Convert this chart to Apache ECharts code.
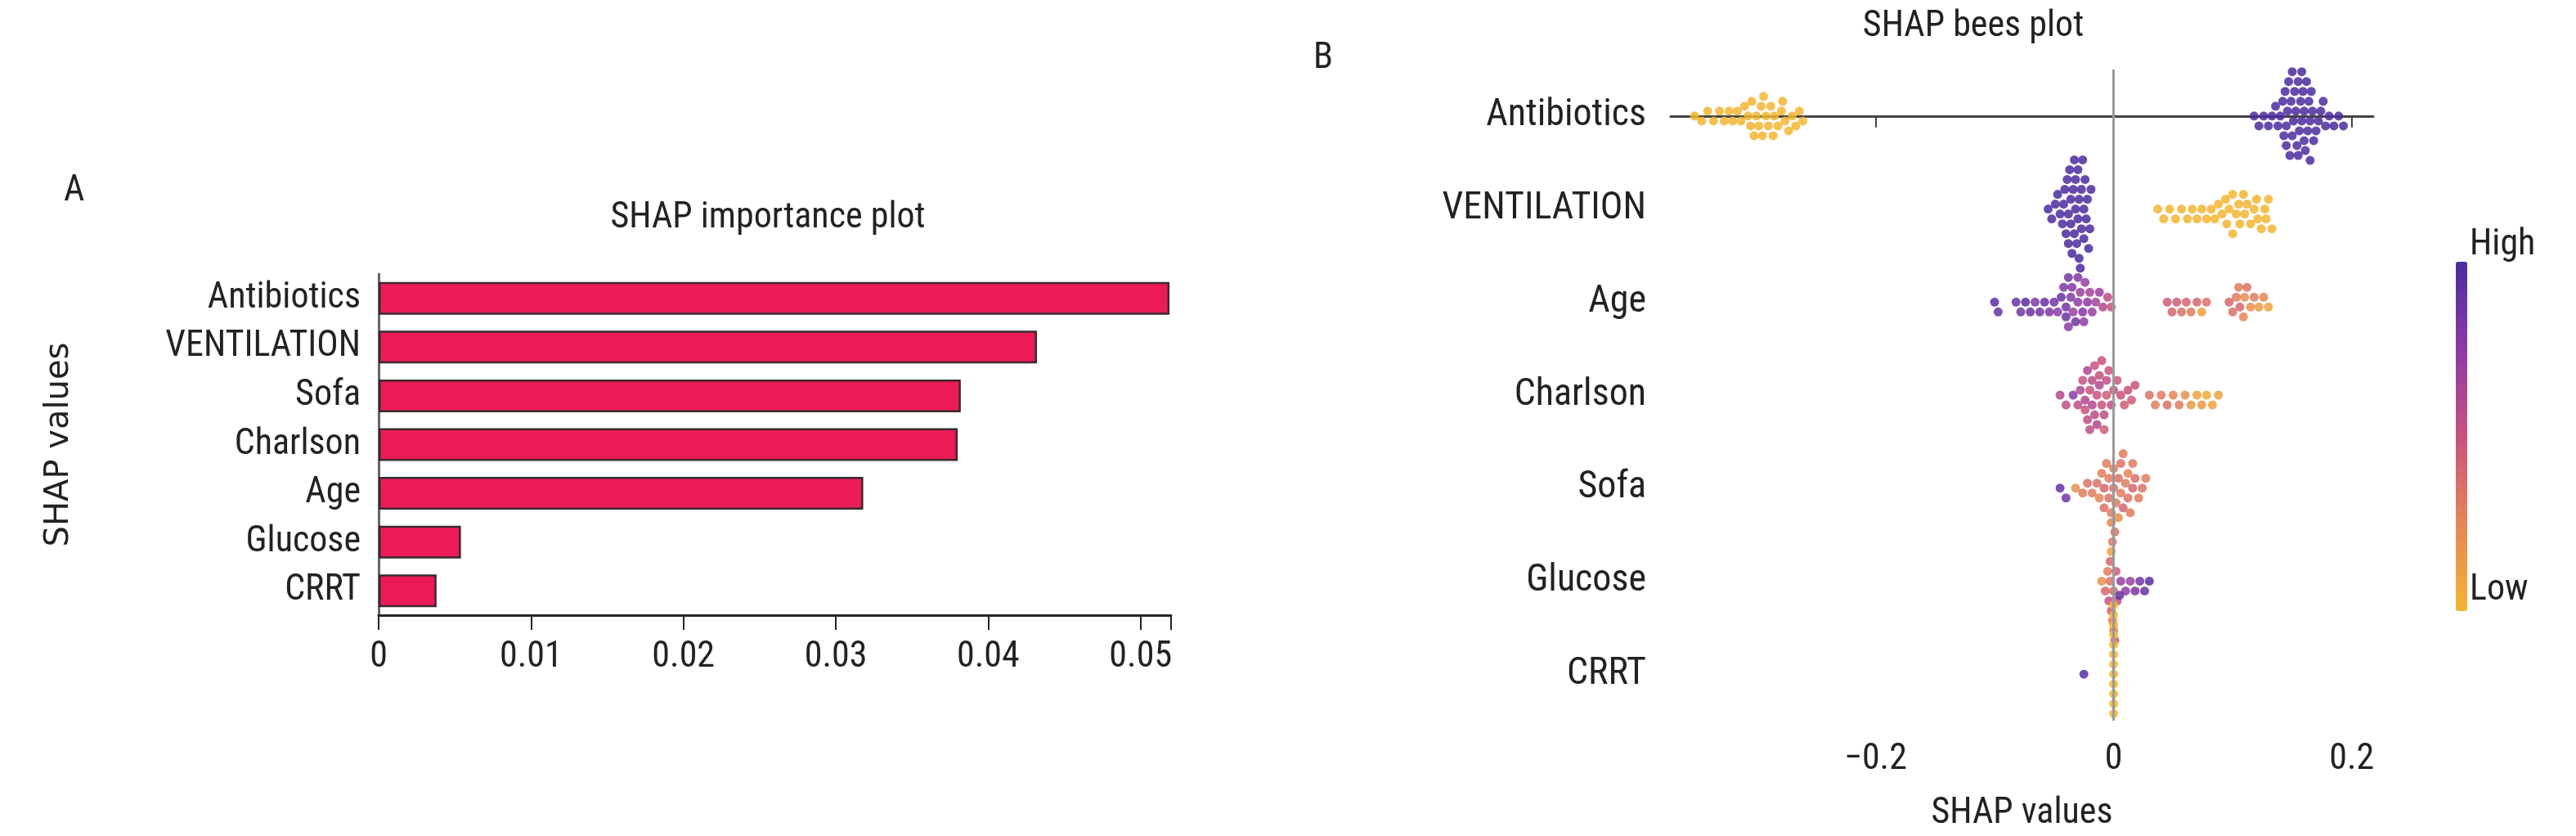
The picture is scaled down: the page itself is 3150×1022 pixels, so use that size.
<!DOCTYPE html>
<html><head><meta charset="utf-8">
<script src="https://cdn.jsdelivr.net/npm/echarts@6/dist/echarts.min.js"></script>
<style>html,body{margin:0;padding:0;background:#fff}#c{width:3150px;height:1022px}</style>
</head><body><div id="c"></div>
<script>
// ---- Panel A data ----
const impCategories = ['CRRT','Glucose','Age','Charlson','Sofa','VENTILATION','Antibiotics'];
const impValues = [0.0038,0.0054,0.0318,0.0380,0.0382,0.0432,0.0519];
const impTicks = [0,0.01,0.02,0.03,0.04,0.05];
// ---- Panel B data: [shap value, feature value (0 low .. 1 high)] ----
const beeCategories = ['Antibiotics','VENTILATION','Age','Charlson','Sofa','Glucose','CRRT'];
const antibiotics = [
 [-0.352,0],[-0.346,0],[-0.341,0],[-0.336,0],[-0.331,0],[-0.327,0],[-0.323,0],[-0.320,0],[-0.316,0],[-0.313,0],
 [-0.310,0],[-0.307,0],[-0.304,0],[-0.302,0],[-0.300,0],[-0.298,0],[-0.296,0],[-0.294,0],[-0.292,0],[-0.290,0],
 [-0.288,0],[-0.285,0],[-0.282,0],[-0.279,0],[-0.276,0],[-0.273,0],[-0.270,0],[-0.267,0],[-0.264,0],[-0.261,0],
 [-0.305,0],[-0.295,0],[-0.286,0],[-0.278,0],
 [0.118,1],[0.122,1],[0.126,1],[0.130,1],[0.133,1],[0.136,1],[0.138,1],[0.140,1],[0.142,1],[0.143,1],
 [0.144,1],[0.145,1],[0.146,1],[0.147,1],[0.148,1],[0.149,1],[0.150,1],[0.151,1],[0.152,1],[0.153,1],
 [0.154,1],[0.155,1],[0.156,1],[0.157,1],[0.158,1],[0.159,1],[0.160,1],[0.161,1],[0.162,1],[0.163,1],
 [0.164,1],[0.165,1],[0.166,1],[0.167,1],[0.168,1],[0.170,1],[0.172,1],[0.174,1],[0.176,1],[0.178,1],
 [0.181,1],[0.185,1],[0.189,1],[0.193,1],[0.150,1],[0.155,1],[0.160,1],[0.165,1],[0.145,1],[0.158,1]
];
const ventilation = [
 [-0.055,1],[-0.052,1],[-0.049,1],[-0.047,1],[-0.045,1],[-0.043,1],[-0.042,1],[-0.041,1],[-0.040,1],[-0.039,1],
 [-0.038,1],[-0.037,1],[-0.036,1],[-0.035,1],[-0.034,1],[-0.033,1],[-0.032,1],[-0.031,1],[-0.030,1],[-0.029,1],
 [-0.028,1],[-0.027,1],[-0.026,1],[-0.025,1],[-0.024,1],[-0.023,1],[-0.022,1],[-0.021,1],[-0.020,1],[-0.019,1],
 [-0.036,1],[-0.033,1],[-0.030,1],[-0.027,1],[-0.038,1],[-0.025,1],[-0.032,1],[-0.029,1],
 [0.037,0],[0.042,0],[0.047,0],[0.052,0],[0.057,0],[0.062,0],[0.066,0],[0.070,0],[0.074,0],[0.078,0],
 [0.082,0],[0.085,0],[0.088,0],[0.091,0],[0.094,0],[0.097,0],[0.100,0],[0.103,0],[0.106,0],[0.109,0],
 [0.112,0],[0.115,0],[0.118,0],[0.121,0],[0.124,0],[0.127,0],[0.130,0],[0.133,0],[0.095,0],[0.105,0],
 [0.110,0],[0.120,0],[0.128,0],[0.100,0]
];
const age = [
 [-0.100,0.95],[-0.097,0.9],[-0.082,0.9],[-0.078,0.85],[-0.074,0.95],[-0.070,0.9],[-0.066,0.8],[-0.062,0.85],
 [-0.058,0.9],[-0.054,0.8],[-0.050,0.85],[-0.047,0.75],[-0.044,0.9],[-0.042,0.8],[-0.040,0.85],[-0.038,0.75],
 [-0.036,0.8],[-0.034,0.7],[-0.032,0.85],[-0.030,0.75],[-0.028,0.7],[-0.026,0.8],[-0.024,0.7],[-0.022,0.75],
 [-0.020,0.65],[-0.018,0.7],[-0.015,0.65],[-0.012,0.7],[-0.009,0.6],[-0.005,0.55],[-0.002,0.5],[-0.040,0.9],
 [-0.038,0.85],[-0.035,0.8],[-0.030,0.8],[-0.025,0.75],
 [0.045,0.45],[0.049,0.4],[0.053,0.45],[0.057,0.35],[0.061,0.4],[0.065,0.3],[0.070,0.4],[0.074,0.1],
 [0.078,0.35],[0.097,0.4],[0.100,0.35],[0.103,0.3],[0.106,0.4],[0.109,0.25],[0.112,0.35],[0.115,0.2],
 [0.118,0.3],[0.122,0.15],[0.126,0.25],[0.130,0.1],[0.105,0.3],[0.110,0.2]
];
const charlson = [
 [-0.045,0.6],[-0.040,0.55],[-0.034,0.75],[-0.030,0.55],[-0.028,0.6],[-0.026,0.5],[-0.024,0.6],[-0.022,0.55],
 [-0.020,0.5],[-0.018,0.6],[-0.016,0.55],[-0.014,0.5],[-0.012,0.6],[-0.010,0.5],[-0.008,0.55],[-0.006,0.45],
 [-0.004,0.5],[-0.002,0.55],[0.000,0.5],[0.003,0.45],[0.006,0.5],[0.009,0.45],[0.012,0.5],[0.015,0.45],
 [0.018,0.5],[-0.022,0.6],[-0.018,0.55],[-0.014,0.6],[-0.010,0.5],[-0.006,0.55],[-0.024,0.5],[-0.016,0.5],
 [-0.008,0.45],[-0.012,0.5],[-0.020,0.55],
 [0.030,0.35],[0.035,0.3],[0.040,0.3],[0.045,0.35],[0.050,0.25],[0.055,0.3],[0.060,0.2],[0.065,0.15],
 [0.070,0.1],[0.074,0.15],[0.078,0.05],[0.083,0.1],[0.088,0.1]
];
const sofa = [
 [-0.045,0.9],[-0.040,0.85],[-0.032,0.2],[-0.026,0.3],[-0.022,0.35],[-0.018,0.3],[-0.014,0.35],[-0.010,0.3],
 [-0.008,0.4],[-0.006,0.3],[-0.004,0.35],[-0.002,0.3],[0.000,0.35],[0.002,0.3],[0.004,0.35],[0.006,0.3],
 [0.008,0.4],[0.010,0.3],[0.012,0.35],[0.014,0.3],[0.016,0.4],[0.018,0.35],[0.021,0.3],[0.024,0.35],
 [0.027,0.3],[-0.012,0.25],[-0.004,0.3],[0.004,0.2],[0.008,0.3],[0.012,0.25],[0.000,0.3],[-0.008,0.35],
 [0.016,0.3],[0.006,0.35],[-0.002,0.25]
];
const glucose = [
 [-0.010,0.2],[-0.007,0.4],[-0.005,0.3],[-0.004,0.5],[-0.003,0.35],[-0.002,0.45],[-0.001,0.3],[0.000,0.4],
 [0.001,0.35],[0.002,0.45],[0.003,0.5],[-0.003,0.4],[-0.001,0.3],[0.001,0.45],[0.006,0.7],[0.010,0.75],
 [0.014,0.7],[0.018,0.8],[0.022,0.85],[0.026,0.9],[0.030,0.95],[-0.002,0.1],[0.000,0.3]
];
const crrt = [
 [-0.025,0.95],[0.005,0.9],[0.000,0],[0.000,0],[0.000,0],[0.000,0],[0.000,0],[0.000,0],[0.000,0],[0.000,0],
 [0.000,0],[0.000,0],[0.000,0],[0.000,0],[0.000,0],[0.000,0],[0.000,0],[0.000,0]
];
const beeRows = [antibiotics, ventilation, age, charlson, sofa, glucose, crrt];
const beeTicks = [-0.2, 0, 0.2];

// beeswarm layout (deterministic placement to avoid overlap)
const pxPerX = 1456, pxPerRow = 114.3, dot = 11;
const beeData = [];
beeRows.forEach((row, ri) => {
  const sorted = row.slice().sort((a,b)=>a[0]-b[0]);
  const placed = [];
  sorted.forEach(p => {
    const px = p[0]*pxPerX;
    let off = 0;
    for (let k = 0; k < 60; k++) {
      const cand = (k===0)?0:((k%2)?1:-1)*Math.ceil(k/2)*dot*0.55;
      const ok = placed.every(q => (q.px-px)**2 + (q.off-cand)**2 >= dot*dot*0.75);
      if (ok) { off = cand; break; }
    }
    placed.push({px, off});
    beeData.push([p[0], ri + off/pxPerRow, p[1]]);
  });
});

const F = "'Liberation Sans Narrow','Roboto Condensed','Open Sans',sans-serif";
const chart = echarts.init(document.getElementById('c'));
chart.setOption({
  animation:false,
  textStyle:{fontFamily:F},
  title:[
    {text:'SHAP importance plot',left:934,top:240,textAlign:'center',textStyle:{fontFamily:F,fontSize:44,fontWeight:'normal',color:'#222'}},
    {text:'SHAP bees plot',left:2408,top:6,textAlign:'center',textStyle:{fontFamily:F,fontSize:44,fontWeight:'normal',color:'#222'}}
  ],
  graphic:[
    {type:'text',left:78,top:212,style:{text:'A',font:"44px "+F,fill:'#222'}},
    {type:'text',left:1606,top:50,style:{text:'B',font:"44px "+F,fill:'#222'}},
    {type:'text',left:3020,top:278,style:{text:'High',font:"44px "+F,fill:'#222'}},
    {type:'text',left:3020,top:700,style:{text:'Low',font:"44px "+F,fill:'#222'}}
  ],
  grid:[
    {left:463,right:1718,top:335,bottom:270},
    {left:2043,right:248,top:85,bottom:137}
  ],
  xAxis:[
    {gridIndex:0,type:'value',min:0,max:0.052,interval:0.01,
     axisLine:{show:true,lineStyle:{color:'#222',width:3}},
     axisTick:{show:true,length:18,lineStyle:{color:'#222',width:2}},
     axisLabel:{fontSize:44,color:'#222',margin:30,fontFamily:F,
       formatter:v=>impTicks.some(t=>Math.abs(t-v)<1e-9)?String(+v.toFixed(2)):''},
     splitLine:{show:false}},
    {gridIndex:1,type:'value',min:-0.372,max:0.218,
     axisLine:{show:true,lineStyle:{color:'#444',width:3}},
     axisTick:{show:true,length:14,lineStyle:{color:'#444',width:2},customValues:beeTicks},
     axisLabel:{fontSize:44,color:'#222',margin:26,fontFamily:F,customValues:beeTicks,
       formatter:v=>v<0?'\u2212'+Math.abs(v):String(v)},
     splitLine:{show:false},
     name:'SHAP values',nameLocation:'middle',nameGap:92,nameTextStyle:{fontSize:44,color:'#222',fontFamily:F}}
  ],
  yAxis:[
    {gridIndex:0,type:'category',data:impCategories,
     axisLine:{show:true,lineStyle:{color:'#666',width:3}},axisTick:{show:false},
     axisLabel:{fontSize:44,color:'#222',margin:22,fontFamily:F},
     splitLine:{show:false},
     name:'SHAP values',nameLocation:'middle',nameGap:370,
     nameTextStyle:{fontSize:40,color:'#222',fontFamily:'DejaVu Sans'}},
    {gridIndex:1,type:'category',data:beeCategories,inverse:true,
     axisLine:{show:false},axisTick:{show:false},
     axisLabel:{fontSize:46,color:'#222',margin:30,fontFamily:F}},
    {gridIndex:1,type:'value',min:-0.5,max:6.5,inverse:true,show:false}
  ],
  visualMap:{type:'continuous',seriesIndex:1,dimension:2,min:0,max:1,
    left:2988,top:305,itemWidth:14,itemHeight:427,text:['',''],calculable:false,showLabel:false,
    inRange:{color:['#f2b632','#e58556','#c8527e','#8d3aa6','#4b2c9f']}},
  series:[
    {type:'bar',xAxisIndex:0,yAxisIndex:0,data:impValues,barWidth:40,
     itemStyle:{color:'#ec1b58',borderColor:'#3a2a2e',borderWidth:2.5}},
    {type:'scatter',xAxisIndex:1,yAxisIndex:2,data:beeData,symbolSize:dot,
     itemStyle:{opacity:0.85},
     markLine:{silent:true,symbol:'none',label:{show:false},
       lineStyle:{color:'#999',width:3,type:'solid'},data:[{xAxis:0}]}}
  ]
});
</script></body></html>
